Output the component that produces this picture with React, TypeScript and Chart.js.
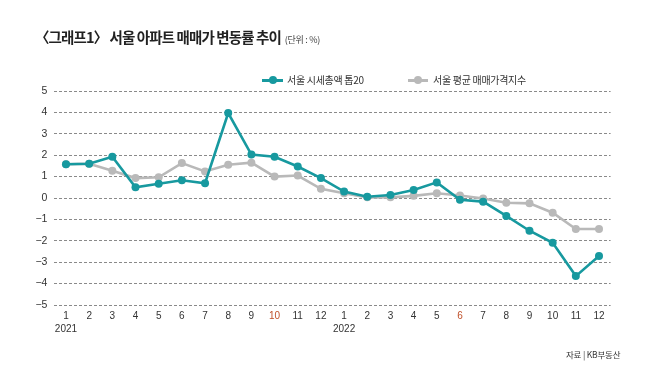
import React, { useEffect, useRef } from 'react';
import { Chart, registerables } from 'chart.js';
Chart.register(...registerables);

const months = ['1','2','3','4','5','6','7','8','9','10','11','12','1','2','3','4','5','6','7','8','9','10','11','12'];
const years = ['2021','','','','','','','','','','','','2022','','','','','','','','','','',''];
const top20 = [1.58,1.6,1.93,0.5,0.67,0.83,0.69,3.97,2.03,1.93,1.47,0.93, 0.3,0.06,0.14,0.37,0.73,-0.08,-0.17,-0.84,-1.53,-2.09,-3.65,-2.71];
const avgIndex = [1.58,1.6,1.27,0.93,0.97,1.63,1.24,1.55,1.65,1.0,1.05,0.43, 0.22,0.03,0.03,0.1,0.22,0.12,-0.02,-0.22,-0.25,-0.69,-1.45,-1.45];
const redTicks = [9, 17];

const TEAL = '#17999f';
const GRAY = '#b9b9b9';
const FONT = "'Liberation Sans', 'Noto Sans CJK KR', sans-serif";

export default function App() {
  const ref = useRef<HTMLCanvasElement>(null);
  useEffect(() => {
    const labels = months.map((m, i) => (years[i] ? [m, years[i]] : m));
    const chart = new Chart(ref.current as HTMLCanvasElement, {
      type: 'line',
      data: {
        labels,
        datasets: [
          { label: '서울 시세총액 톱20', data: top20, borderColor: TEAL, backgroundColor: TEAL, borderWidth: 2.6, pointRadius: 4, pointBackgroundColor: TEAL, pointBorderWidth: 0, tension: 0 },
          { label: '서울 평균 매매가격지수', data: avgIndex, borderColor: GRAY, backgroundColor: GRAY, borderWidth: 2.6, pointRadius: 4, pointBackgroundColor: GRAY, pointBorderWidth: 0, tension: 0 },
        ],
      },
      options: {
        animation: false,
        responsive: false,
        maintainAspectRatio: false,
        layout: { padding: { top: 91, left: 0, right: 39.4, bottom: 0 } },
        plugins: { legend: { display: false }, tooltip: { enabled: false } },
        scales: {
          x: {
            offset: true,
            grid: { display: false },
            border: { display: false },
            ticks: {
              autoSkip: false,
              maxRotation: 0,
              padding: -3,
              font: { size: 10, family: FONT, lineHeight: 1.3 },
              color: (ctx: any) => (redTicks.includes(ctx.index) ? '#c0502a' : '#333'),
            },
            afterFit: (s: any) => { s.height = 65; },
          },
          y: {
            min: -5,
            max: 5,
            ticks: {
              stepSize: 1,
              padding: 7,
              color: '#333',
              font: { size: 10.5, family: FONT },
              callback: (v: any) => (Number(v) < 0 ? '\u2212' + Math.abs(Number(v)) : String(v)),
            },
            grid: { color: '#8a8a8a', lineWidth: 1, drawTicks: false },
            border: { display: false, dash: [3, 2] },
            afterFit: (s: any) => { s.width = 54.4; },
          },
        },
      },
    });
    return () => chart.destroy();
  }, []);

  const kr = "'Noto Sans CJK KR', 'Liberation Sans', sans-serif";
  return (
    <div style={{ position: 'absolute', left: 0, top: 0, width: 650, height: 370, background: '#fff', overflow: 'hidden' }}>
      <canvas ref={ref} width={650} height={370} style={{ position: 'absolute', left: 0, top: 0, width: 650, height: 370 }} />
      <div style={{ position: 'absolute', left: 35, top: 27, fontFamily: kr, fontSize: 14.5, fontWeight: 700, color: '#222', whiteSpace: 'nowrap', letterSpacing: -0.9, lineHeight: '20px' }}>
        〈그래프1〉 서울 아파트 매매가 변동률 추이
        <span style={{ fontSize: 9, fontWeight: 400, color: '#444', marginLeft: 4, letterSpacing: -0.3 }}>(단위 : %)</span>
      </div>
      {/* legend */}
      <div style={{ position: 'absolute', left: 262, top: 78.5, width: 21, height: 3, background: TEAL }} />
      <div style={{ position: 'absolute', left: 268.5, top: 76, width: 8, height: 8, borderRadius: 4, background: TEAL }} />
      <div style={{ position: 'absolute', left: 287, top: 72, fontFamily: kr, fontSize: 10, color: '#333', whiteSpace: 'nowrap', letterSpacing: -0.3, lineHeight: '16px' }}>서울 시세총액 톱20</div>
      <div style={{ position: 'absolute', left: 408, top: 78.5, width: 20, height: 3, background: GRAY }} />
      <div style={{ position: 'absolute', left: 414, top: 76, width: 8, height: 8, borderRadius: 4, background: GRAY }} />
      <div style={{ position: 'absolute', left: 433, top: 72, fontFamily: kr, fontSize: 10, color: '#333', whiteSpace: 'nowrap', letterSpacing: -0.3, lineHeight: '16px' }}>서울 평균 매매가격지수</div>
      <div style={{ position: 'absolute', left: 566, top: 347, fontFamily: kr, fontSize: 8.5, color: '#333', whiteSpace: 'nowrap', letterSpacing: -0.2, lineHeight: '14px' }}>자료 | KB부동산</div>
    </div>
  );
}
